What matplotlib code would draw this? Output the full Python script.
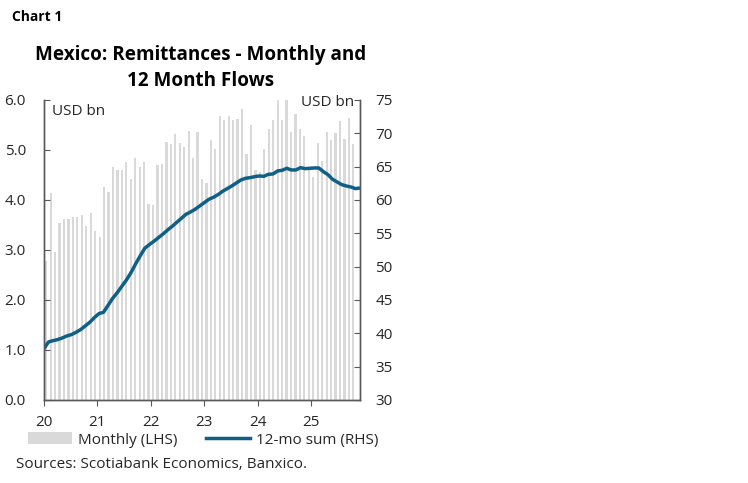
import numpy as np
import matplotlib
matplotlib.use("Agg")
import matplotlib.pyplot as plt
from matplotlib.patches import Patch
from matplotlib.lines import Line2D

plt.rcParams["font.family"] = ["Open Sans", "DejaVu Sans"]

# monthly remittances, USD bn (Feb 2020 .. Nov 2025)
monthly = [
    2.78, 4.13, 2.96, 3.53, 3.62, 3.62, 3.65, 3.66, 3.69, 3.48, 3.74,
    3.38, 3.25, 4.25, 4.15, 4.65, 4.59, 4.59, 4.76, 4.41, 4.83, 4.65, 4.75,
    3.91, 3.90, 4.69, 4.71, 5.15, 5.12, 5.32, 5.14, 5.06, 5.37, 4.83, 5.36,
    4.42, 4.34, 5.19, 5.01, 5.68, 5.59, 5.67, 5.59, 5.61, 5.81, 4.92, 5.50,
    4.60, 4.55, 5.01, 5.42, 5.60, 6.21, 5.59, 6.10, 5.36, 5.72, 5.41, 5.27,
    4.66, 4.45, 5.13, 4.77, 5.35, 5.20, 5.34, 5.58, 5.22, 5.63, 5.12,
]

# 12-month rolling sum, USD bn
rolling = [
    37.7, 38.7, 38.9, 39.05, 39.3, 39.6, 39.8, 40.15, 40.55, 41.1, 41.65, 42.35,
    42.95, 43.15, 44.2, 45.25, 46.1, 47.05, 48.0, 49.1, 50.4, 51.6, 52.75, 53.3,
    53.8, 54.35, 54.9, 55.5, 56.05, 56.65, 57.25, 57.85, 58.2, 58.6, 59.1, 59.6,
    60.1, 60.4, 60.8, 61.3, 61.7, 62.1, 62.55, 63.0, 63.25, 63.35, 63.5, 63.6,
    63.55, 63.85, 63.9, 64.35, 64.45, 64.75, 64.5, 64.5, 64.85, 64.7, 64.75, 64.8,
    64.8, 64.25, 63.8, 63.1, 62.7, 62.3, 62.1, 61.95, 61.7, 61.8,
]

year_labels = ["20", "21", "22", "23", "24", "25"]

n_months = 71
bar_x = np.arange(len(monthly)) + 0.5
line_x = np.linspace(0, n_months, len(rolling))

gray = "#d9d9d9"
blue = "#0f5f87"
axis_col = "#595959"
text_col = "#262626"
fs = 11

fig = plt.figure(figsize=(7.48, 4.83), dpi=100)
ax = fig.add_axes([0.0588, 0.172, 0.4225, 0.621])
ax2 = ax.twinx()

ax.bar(bar_x, monthly, width=0.5, color=gray, zorder=1)
ax2.plot(line_x, rolling, color=blue, linewidth=2.5, solid_capstyle="butt")

ax.set_xlim(0, n_months)
ax.set_ylim(0, 6)
ax2.set_ylim(30, 75)

ax.set_yticks(np.arange(0, 6.1, 1.0))
ax.set_yticklabels([f"{v:.1f}" for v in np.arange(0, 6.1, 1.0)])
ax2.set_yticks(np.arange(30, 76, 5))
ax.set_xticks(np.arange(0, n_months, 12))
ax.set_xticklabels(year_labels)

for a in (ax, ax2):
    a.spines["top"].set_visible(False)
    for s in ("left", "right", "bottom"):
        a.spines[s].set_color(axis_col)
        a.spines[s].set_linewidth(1.0)
ax.tick_params(axis="y", direction="in", length=4, color=axis_col,
               labelsize=fs, labelcolor=text_col, pad=13)
ax2.tick_params(axis="y", direction="in", length=4, color=axis_col,
                labelsize=fs, labelcolor=text_col, pad=11)
ax.tick_params(axis="x", direction="out", length=4, color=axis_col,
               labelsize=fs, labelcolor=text_col, pad=7)

ax.text(0.025, 0.985, "USD bn", transform=ax.transAxes, ha="left", va="top",
        fontsize=fs, color=text_col)
ax2.text(0.98, 1.015, "USD bn", transform=ax.transAxes, ha="right", va="top",
         fontsize=fs, color=text_col)

fig.text(0.016, 0.965, "Chart 1", fontsize=10, fontweight="bold",
         ha="left", va="center", color="black")
fig.text(0.268, 0.859, "Mexico: Remittances - Monthly and\n12 Month Flows",
         fontsize=13.6, fontweight="bold", ha="center", va="center",
         linespacing=1.35, color="black")

handles = [Patch(facecolor=gray, edgecolor="none"),
           Line2D([0], [0], color=blue, linewidth=2.5)]
fig.legend(handles, ["Monthly (LHS)", "12-mo sum (RHS)"], loc="center left",
           bbox_to_anchor=(0.019, 0.089), ncol=2, frameon=False, fontsize=fs,
           handlelength=2.9, handleheight=0.8, handletextpad=0.35,
           columnspacing=1.9, labelcolor=text_col)

fig.text(0.022, 0.039, "Sources: Scotiabank Economics, Banxico.", fontsize=fs,
         ha="left", va="center", color=text_col)

fig.savefig("out.png", dpi=100)
